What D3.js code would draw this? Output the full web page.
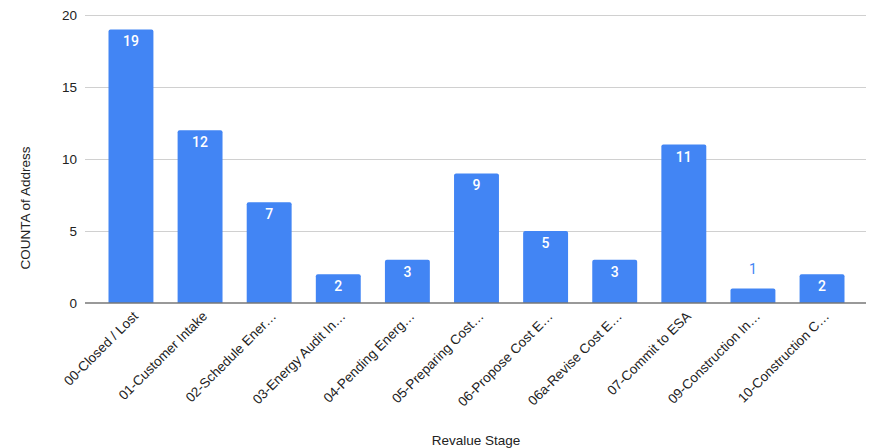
<!DOCTYPE html>
<html>
<head>
<meta charset="utf-8">
<script src="https://cdn.jsdelivr.net/npm/d3@7"></script>
<style>
  html, body { margin: 0; padding: 0; background: #fff; }
  svg { display: block; font-family: "Liberation Sans", Arial, sans-serif; }
</style>
</head>
<body>
<svg id="chart" width="873" height="448"></svg>
<script>
// Stage labels (as shown on the axis) and counts per stage
const categories = [
  "00-Closed / Lost",
  "01-Customer Intake",
  "02-Schedule Ener…",
  "03-Energy Audit In…",
  "04-Pending Energ…",
  "05-Preparing Cost…",
  "06-Propose Cost E…",
  "06a-Revise Cost E…",
  "07-Commit to ESA",
  "09-Construction In…",
  "10-Construction C…"
];
const counts = [19, 12, 7, 2, 3, 9, 5, 3, 11, 1, 2];
const yTicks = [0, 5, 10, 15, 20];
const yTitle = "COUNTA of Address";
const xTitle = "Revalue Stage";

const svg = d3.select("#chart");
const plotLeft = 85, plotRight = 868, plotTop = 15, plotBottom = 303;
const barColor = "#4285f4";

const x = d3.scaleBand()
  .domain(categories)
  .range([plotLeft, plotRight])
  .paddingInner(0.35)
  .paddingOuter(0.34);

const y = d3.scaleLinear().domain([0, 20]).range([plotBottom, plotTop]);

// gridlines
svg.append("g")
  .selectAll("line")
  .data(yTicks.filter(t => t !== 0))
  .join("line")
  .attr("x1", plotLeft).attr("x2", 866)
  .attr("y1", d => y(d)).attr("y2", d => y(d))
  .attr("stroke", "#d0d0d0").attr("stroke-width", 1)
  .attr("shape-rendering", "crispEdges");

// y tick labels
svg.append("g")
  .selectAll("text")
  .data(yTicks)
  .join("text")
  .attr("x", 77)
  .attr("y", d => y(d))
  .attr("dy", "0.36em")
  .attr("text-anchor", "end")
  .attr("font-size", 13.5)
  .attr("fill", "#222")
  .text(d => d);

// bars with slightly rounded tops
const r = 2;
svg.append("g")
  .selectAll("path")
  .data(counts)
  .join("path")
  .attr("fill", barColor)
  .attr("d", (d, i) => {
    const x0 = x(categories[i]), w = x.bandwidth();
    const y0 = y(d), y1 = y(0);
    return `M${x0},${y1}V${y0 + r}Q${x0},${y0} ${x0 + r},${y0}H${x0 + w - r}Q${x0 + w},${y0} ${x0 + w},${y0 + r}V${y1}Z`;
  });

// baseline
svg.append("line")
  .attr("x1", plotLeft).attr("x2", 866)
  .attr("y1", y(0)).attr("y2", y(0))
  .attr("stroke", "#777").attr("stroke-width", 1.3);

// value labels: inside the bar when it fits, above otherwise
const fitsInside = d => y(0) - y(d) >= 20;
svg.append("g")
  .selectAll("text")
  .data(counts)
  .join("text")
  .attr("x", (d, i) => x(categories[i]) + x.bandwidth() / 2)
  .attr("y", d => (fitsInside(d) ? y(d) + 17 : y(d) - 15))
  .attr("text-anchor", "middle")
  .attr("font-family", "Roboto, 'Liberation Sans', sans-serif")
  .attr("font-size", 14)
  .attr("font-weight", d => (fitsInside(d) ? 500 : 400))
  .attr("fill", d => (fitsInside(d) ? "#fff" : barColor))
  .text(d => d);

// rotated category labels
svg.append("g")
  .selectAll("text")
  .data(categories)
  .join("text")
  .attr("transform", d => `translate(${x(d) + x.bandwidth() / 2 + 8},${y(0) + 14}) rotate(-45)`)
  .attr("text-anchor", "end")
  .attr("font-size", 13.5)
  .attr("fill", "#222")
  .text(d => d);

// axis titles
svg.append("text")
  .attr("transform", `translate(30,208) rotate(-90)`)
  .attr("text-anchor", "middle")
  .attr("font-size", 13.5)
  .attr("fill", "#222")
  .text(yTitle);

svg.append("text")
  .attr("x", 476).attr("y", 445)
  .attr("text-anchor", "middle")
  .attr("font-size", 13.5)
  .attr("fill", "#222")
  .text(xTitle);
</script>
</body>
</html>
